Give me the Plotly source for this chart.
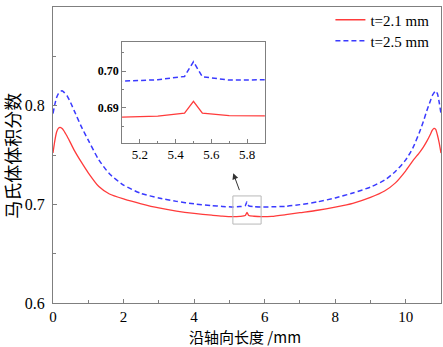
import plotly.graph_objects as go

# Axial position (mm)
length_mm = [0, 0.05, 0.1, 0.15, 0.2, 0.25, 0.3, 0.4, 0.5, 0.6, 0.8, 1.0, 1.3, 1.6, 2.0,
             2.5, 3.0, 3.5, 4.0, 4.5, 4.8, 5.1, 5.3, 5.45, 5.5, 5.55, 5.7, 5.9, 6.2, 6.6,
             7.0, 7.5, 8.0, 8.5, 9.0, 9.4, 9.7, 10.0, 10.2, 10.4, 10.5, 10.6, 10.7, 10.75,
             10.8, 10.85, 10.9, 10.95, 11.0]

# Martensite volume fraction, t = 2.1 mm
frac_t21 = [0.752, 0.764, 0.773, 0.777, 0.778, 0.777, 0.775, 0.769, 0.762, 0.755, 0.743,
            0.732, 0.718, 0.7105, 0.7055, 0.7005, 0.6963, 0.6932, 0.6908, 0.6890, 0.6880,
            0.6875, 0.6878, 0.6886, 0.6918, 0.6886, 0.6879, 0.6875, 0.6878, 0.6895,
            0.6915, 0.6940, 0.6972, 0.7010, 0.7070, 0.7135, 0.7215, 0.734, 0.744, 0.753,
            0.758, 0.764, 0.771, 0.775, 0.777, 0.776, 0.770, 0.762, 0.752]

# Martensite volume fraction, t = 2.5 mm
frac_t25 = [0.792, 0.801, 0.808, 0.812, 0.814, 0.815, 0.814, 0.810, 0.803, 0.795, 0.779,
            0.765, 0.745, 0.731, 0.7195, 0.7110, 0.7065, 0.7030, 0.7005, 0.6987, 0.6979,
            0.6973, 0.6977, 0.6986, 0.7026, 0.6985, 0.6976, 0.6973, 0.6975, 0.6980,
            0.6997, 0.7025, 0.7065, 0.7115, 0.7175, 0.7245, 0.733, 0.745, 0.757, 0.774,
            0.784, 0.795, 0.805, 0.810, 0.813, 0.815, 0.812, 0.803, 0.792]

series_names = ["t=2.1 mm", "t=2.5 mm"]
x_title = "沿轴向长度 /mm"
y_title = "马氏体体积分数"
main_xticks = [0, 2, 4, 6, 8, 10]
main_yticks = [0.6, 0.7, 0.8, 0.9]
inset_xticks = [5.2, 5.4, 5.6, 5.8]
inset_yticks = [0.69, 0.70]

RED = "#ff3b3b"
BLUE = "#3a3aff"
FRAME = "#7f7f7f"
SERIF = "Liberation Serif"
CJK = "Noto Sans CJK SC"

fig = go.Figure()

fig.add_trace(go.Scatter(x=length_mm, y=frac_t21, mode="lines", name=series_names[0],
                         line=dict(color=RED, width=1.3, shape="spline", smoothing=0.6),
                         xaxis="x", yaxis="y", legend="legend"))
fig.add_trace(go.Scatter(x=length_mm, y=frac_t25, mode="lines", name=series_names[1],
                         line=dict(color=BLUE, width=1.5, dash="5px,3px", shape="spline",
                                   smoothing=0.6),
                         xaxis="x", yaxis="y", legend="legend2"))
fig.add_trace(go.Scatter(x=length_mm, y=frac_t21, mode="lines", showlegend=False,
                         line=dict(color=RED, width=1.3), xaxis="x2", yaxis="y2"))
fig.add_trace(go.Scatter(x=length_mm, y=frac_t25, mode="lines", showlegend=False,
                         line=dict(color=BLUE, width=1.5, dash="5px,3px"), xaxis="x2", yaxis="y2"))

axis_common = dict(showgrid=False, zeroline=False, showline=True, mirror=True,
                   linecolor=FRAME, linewidth=1, ticks="inside", tickcolor=FRAME,
                   ticklen=4, tickwidth=1, automargin=False)

legend_common = dict(xanchor="left", yanchor="middle", bgcolor="rgba(0,0,0,0)",
                     font=dict(size=15, family=SERIF, color="black"), itemwidth=30,
                     borderwidth=0)

fig.update_layout(
    width=443, height=347,
    margin=dict(l=53, r=2, t=7, b=44),
    paper_bgcolor="white", plot_bgcolor="white",
    font=dict(family=SERIF, color="black"),
    xaxis=dict(**axis_common, range=[0, 11], tickvals=main_xticks,
               ticktext=[str(v) for v in main_xticks],
               tickfont=dict(size=15, family=SERIF, color="black"), ticklabelstandoff=0,
               minor=dict(ticks="inside", dtick=1, ticklen=3, tickcolor=FRAME),
               domain=[0, 1]),
    yaxis=dict(**axis_common, range=[0.6, 0.9], tickvals=main_yticks,
               ticktext=["0.6", "0.7", "0.8", "0.9"],
               tickfont=dict(size=16, family=SERIF, color="black"), ticklabelstandoff=4,
               minor=dict(ticks="inside", dtick=0.05, ticklen=3, tickcolor=FRAME),
               domain=[0, 1]),
    xaxis2=dict(**axis_common, range=[5.1, 5.9], tickvals=inset_xticks,
                ticktext=["5.2", "5.4", "5.6", "5.8"],
                tickfont=dict(size=13, family=SERIF, color="black"),
                minor=dict(ticks="inside", dtick=0.1, ticklen=2, tickcolor=FRAME),
                domain=[0.178, 0.546], anchor="y2"),
    yaxis2=dict(**axis_common, range=[0.6805, 0.708], tickvals=inset_yticks,
                ticktext=["0.69", "0.70"],
                tickfont=dict(size=12, family=SERIF, weight="bold", color="black"),
                minor=dict(ticks="inside", dtick=0.005, ticklen=2, tickcolor=FRAME),
                domain=[0.541, 0.882], anchor="x2"),
    legend=dict(**legend_common, x=0.715, y=0.956),
    legend2=dict(**legend_common, x=0.715, y=0.885),
    showlegend=True,
)

# axis titles
fig.add_annotation(text=x_title, xref="paper", yref="paper", x=0.495, y=-0.113,
                   xanchor="center", yanchor="middle", showarrow=False,
                   font=dict(size=15, family=CJK, color="black"))
fig.add_annotation(text=y_title, xref="paper", yref="paper", x=-0.106, y=0.497,
                   xanchor="center", yanchor="middle", showarrow=False, textangle=-90,
                   font=dict(size=18, family=CJK, color="black"))

# zoom box on main plot
fig.add_shape(type="rect", xref="x", yref="y", x0=5.1, x1=5.9, y0=0.680, y1=0.7085,
              line=dict(color="#b8b8b8", width=1))
# arrow pointing to inset
fig.add_annotation(x=5.11, y=0.7315, ax=5.30, ay=0.7129, xref="x", yref="y",
                   axref="x", ayref="y", showarrow=True, arrowhead=2, arrowsize=1.2,
                   arrowwidth=1, arrowcolor="#333333", text="")

fig.write_html("out.html", config={"displayModeBar": False},
               post_script="document.body.style.margin='0';document.body.style.overflow='hidden';")
